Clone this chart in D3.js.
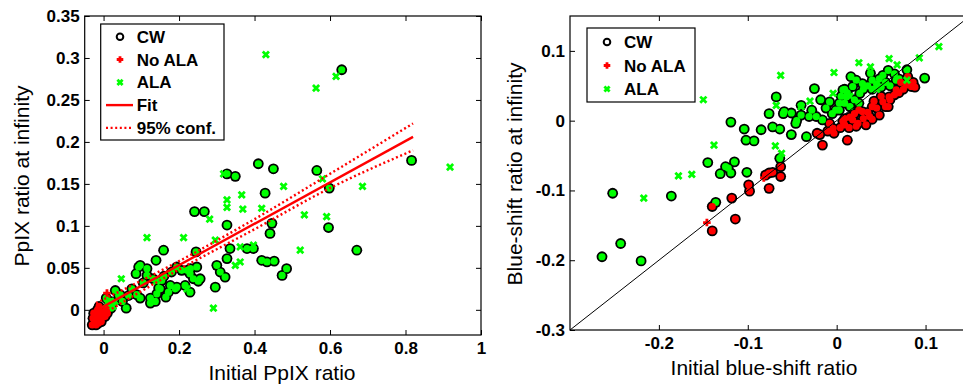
<!DOCTYPE html>
<html>
<head>
<meta charset="utf-8">
<script src="https://cdn.jsdelivr.net/npm/d3@7"></script>
<style>
  body { margin: 0; background: #fff; }
  svg { display: block; }
  text { font-family: "Liberation Sans", Arial, sans-serif; }
</style>
</head>
<body>
<svg id="chart" width="963" height="386"></svg>
<script>
'use strict';

// ---- left panel data: [initial, at infinity]
const leftCwAla = [[0.631,0.286],[0.816,0.178],[0.565,0.166],[0.598,0.145],[0.596,0.098],[0.671,0.071],
  [0.410,0.174],[0.450,0.168],[0.428,0.139],[0.327,0.162],[0.349,0.159],[0.446,0.103],[0.441,0.091],
  [0.241,0.117],[0.267,0.117],[0.327,0.101],[0.380,0.073],[0.397,0.073],[0.335,0.073],[0.327,0.061],
  [0.300,0.053],[0.309,0.045],[0.322,0.039],[0.296,0.027],[0.419,0.059],[0.433,0.057],[0.452,0.058],
  [0.485,0.049],[0.473,0.041],[0.245,0.069],[0.247,0.051],[0.229,0.043],[0.238,0.037],[0.251,0.034],
  [0.207,0.047],[0.194,0.051],[0.229,0.021],[0.194,0.027],[0.177,0.029],[0.172,0.021],[0.159,0.071],
  [0.139,0.059],[0.115,0.049],[0.093,0.051],[0.086,0.043],[0.115,0.041],[0.131,0.037],[0.154,0.035],
  [0.150,0.025],[0.141,0.019],[0.124,0.014],[0.124,0.008],[0.097,0.014],[0.066,0.017],[0.060,0.002],
  [0.031,0.023],[0.040,0.017],[0.018,0.010],[0.007,0.014],[0.097,0.053],[0.137,0.010],[0.146,0.026],
  [0.216,0.029],[0.221,0.047],[0.044,0.018],[0.088,0.018],[0.190,0.025],[0.230,0.049],[0.256,0.037],
  [0.105,0.032],[0.160,0.040],[0.180,0.045],[0.075,0.025],[0.050,0.010],[0.020,0.002],[0.165,0.015]];
const leftCwNoAla = [[-0.026,-0.004],[-0.018,-0.008],[-0.010,-0.012],[-0.022,-0.014],[-0.014,-0.016],
  [-0.004,-0.006],[-0.028,-0.010],[-0.020,-0.018],[-0.006,-0.014],[0.000,-0.002],[-0.016,0.000],
  [-0.008,-0.004],[-0.024,-0.016],[0.004,-0.008],[0.008,0.002],[-0.030,-0.018],[0.010,-0.004],
  [-0.012,0.004]];
const leftAla = [[0.430,0.304],[0.616,0.278],[0.563,0.264],[0.918,0.170],[0.686,0.147],[0.477,0.147],
  [0.580,0.156],[0.318,0.162],[0.327,0.131],[0.327,0.122],[0.366,0.137],[0.369,0.120],[0.419,0.121],
  [0.532,0.113],[0.591,0.111],[0.281,0.108],[0.115,0.086],[0.212,0.086],[0.296,0.083],[0.521,0.071],
  [0.362,0.075],[0.397,0.077],[0.349,0.053],[0.362,0.057],[0.291,0.002],[0.047,0.037],[0.221,0.025],
  [0.010,0.008],[0.025,0.004],[0.140,0.034],[0.030,0.010]];
const leftNoAla = [[0.009,0.020]];
const fitLine = [[-0.02,-0.001],[0.82,0.206]];
const confUpper = [[-0.02,0.008],[0.2,0.058],[0.4,0.108],[0.6,0.162],[0.82,0.222]];
const confLower = [[-0.02,-0.010],[0.2,0.048],[0.4,0.096],[0.6,0.145],[0.82,0.190]];
const leftXTicks = [0, 0.2, 0.4, 0.6, 0.8, 1];
const leftYTicks = [0, 0.05, 0.1, 0.15, 0.2, 0.25, 0.3, 0.35];

// ---- right panel data
const rightCwAla = [[-0.264,-0.195],[-0.252,-0.104],[-0.243,-0.176],[-0.220,-0.201],[-0.186,-0.108],
  [-0.145,-0.060],[-0.136,-0.117],[-0.131,-0.076],[-0.125,-0.066],[-0.119,-0.075],[-0.115,-0.059],
  [-0.122,-0.068],[-0.101,-0.074],[-0.119,-0.002],[-0.104,-0.012],[-0.102,-0.028],[-0.093,-0.029],
  [-0.085,-0.013],[-0.076,0.010],[-0.068,0.034],[-0.072,-0.009],[-0.064,-0.012],[-0.064,-0.054],
  [-0.051,-0.020],[-0.046,-0.004],[-0.034,-0.023],[-0.025,0.046],[-0.018,0.030],[-0.008,0.027],
  [-0.016,0.001],[-0.059,0.013],[-0.051,0.011],[-0.040,0.022],[-0.031,0.006],[-0.023,0.006],
  [0.003,0.015],[0.009,0.025],[0.009,0.045],[0.016,0.063],[0.058,0.072],[0.079,0.073],[0.099,0.061],
  [0.007,0.044],[0.018,0.049],[0.029,0.053],[0.040,0.058],[0.048,0.060],[0.067,0.058],[0.065,0.067],
  [0.003,0.025],[-0.001,0.015],[0.011,0.034],[0.026,0.039],[0.035,0.050],[0.022,0.058],[0.045,0.052],
  [0.055,0.055],[-0.040,0.008],[-0.045,0.000],[-0.060,0.010],[0.012,0.040],[0.020,0.030],
  [0.030,0.045],[0.040,0.045],[0.050,0.048],[0.060,0.050],[0.070,0.060],[0.015,0.020],[0.005,0.035],
  [-0.005,0.010],[0.025,0.025],[0.052,0.065],[0.038,0.068],[-0.028,0.015],[-0.012,0.018]];
const rightCwNoAla = [[-0.140,-0.158],[-0.114,-0.141],[-0.118,-0.111],[-0.140,-0.123],[-0.098,-0.101],
  [-0.099,-0.092],[-0.076,-0.097],[-0.063,-0.080],[-0.072,-0.074],[-0.080,-0.078],[-0.063,-0.066],
  [-0.076,-0.075],[-0.016,-0.035],[-0.022,-0.018],[-0.019,-0.020],[0.012,-0.028],[-0.004,-0.011],
  [0.007,-0.001],[0.018,0.001],[0.029,0.013],[0.040,0.020],[0.052,0.027],[0.059,0.034],[0.067,0.044],
  [0.078,0.051],[0.084,0.049],[0.080,0.063],[-0.003,-0.018],[0.014,-0.010],[0.037,0.006],[0.048,0.008],
  [0.033,-0.006],[0.024,-0.004],[0.009,-0.006],[0.009,0.003],[0.020,0.010],[0.030,0.003],[0.045,0.018],
  [0.055,0.020],[0.060,0.030],[0.070,0.040],[0.086,0.055],[-0.008,-0.004],
  [0.015,0.005],[0.025,0.015],[0.035,0.012],[0.042,0.028],[0.050,0.035],[0.065,0.037],[0.075,0.045],
  [0.088,0.048],[0.004,-0.010],[0.022,-0.008],[0.040,0.002],[0.058,0.020],[0.072,0.055],[-0.010,-0.015]];
const rightAla = [[-0.150,0.030],[-0.138,-0.035],[-0.178,-0.079],[-0.163,-0.077],[-0.217,-0.111],
  [-0.063,0.065],[-0.069,-0.036],[-0.062,-0.047],[-0.003,0.069],[0.025,0.083],[0.038,0.077],
  [0.059,0.089],[0.068,0.080],[0.093,0.090],[0.115,0.106],[0.079,0.058],[-0.004,0.039],[-0.068,0.022],
  [-0.040,0.020],[-0.030,0.028],[0.045,0.045],[0.015,0.035]];
const rightNoAla = [[-0.146,-0.146],[-0.082,-0.082]];
const identityLine = [[-0.3,-0.3],[0.15,0.15]];
const rightXTicks = [-0.2, -0.1, 0, 0.1];
const rightYTicks = [-0.3, -0.2, -0.1, 0, 0.1];

const GREEN = '#00ff00', RED = '#ff0000';
const fmt = d => d3.format('~g')(d).replace('\u2212', '-');

const svg = d3.select('#chart');

function xMark(g, x, y, s) {
  g.append('path').attr('d', `M${x-s},${y-s}L${x+s},${y+s}M${x-s},${y+s}L${x+s},${y-s}`)
    .attr('stroke', GREEN).attr('stroke-width', 2.8).attr('fill', 'none');
}
function plusMark(g, x, y, s) {
  g.append('path').attr('d', `M${x-s},${y}L${x+s},${y}M${x},${y-s}L${x},${y+s}`)
    .attr('stroke', RED).attr('stroke-width', 2.8).attr('fill', 'none');
}

function panel(opt) {
  const x = d3.scaleLinear().domain(opt.xDom).range(opt.xRange);
  const y = d3.scaleLinear().domain(opt.yDom).range(opt.yRange);
  const [x0, x1] = opt.xRange, [y1, y0] = opt.yRange;
  const g = svg.append('g');

  const clipId = 'clip' + opt.id;
  svg.append('clipPath').attr('id', clipId).append('rect')
    .attr('x', x0).attr('y', y0).attr('width', x1 - x0).attr('height', y1 - y0);
  const plot = g.append('g').attr('clip-path', `url(#${clipId})`);

  const line = d3.line().x(d => x(d[0])).y(d => y(d[1]));

  // CW circles: black ring, then coloured centre
  const cw = opt.cwAla.concat(opt.cwNoAla);
  plot.selectAll('circle.ring').data(cw).enter().append('circle')
    .attr('class', 'ring').attr('cx', d => x(d[0])).attr('cy', d => y(d[1]))
    .attr('r', 5.4).attr('fill', '#000');
  plot.selectAll('circle.fa').data(opt.cwAla).enter().append('circle')
    .attr('class', 'fa').attr('cx', d => x(d[0])).attr('cy', d => y(d[1]))
    .attr('r', 3.6).attr('fill', GREEN);
  plot.selectAll('circle.fn').data(opt.cwNoAla).enter().append('circle')
    .attr('class', 'fn').attr('cx', d => x(d[0])).attr('cy', d => y(d[1]))
    .attr('r', 3.6).attr('fill', RED);
  opt.noAla.forEach(d => plusMark(plot, x(d[0]), y(d[1]), 3.8));
  opt.ala.forEach(d => xMark(plot, x(d[0]), y(d[1]), 3.1));

  if (opt.fit) {
    plot.append('path').datum(opt.fit).attr('d', line)
      .attr('stroke', RED).attr('stroke-width', 2.4).attr('fill', 'none');
    [opt.upper, opt.lower].forEach(c => {
      plot.append('path').datum(c).attr('d', line.curve(d3.curveMonotoneX))
        .attr('stroke', RED).attr('stroke-width', 2.4).attr('stroke-dasharray', '2,2.6').attr('fill', 'none');
    });
  }
  if (opt.identity) {
    plot.append('path').datum(opt.identity).attr('d', d3.line().x(d => x(d[0])).y(d => y(d[1])))
      .attr('stroke', '#000').attr('stroke-width', 1).attr('fill', 'none');
  }

  // axes, ticks pointing inward on all four sides
  g.append('g').attr('transform', `translate(0,${y1})`)
    .call(d3.axisBottom(x).tickValues(opt.xTicks).tickFormat(fmt).tickSizeInner(-5).tickSizeOuter(0).tickPadding(7));
  g.append('g').attr('transform', `translate(0,${y0})`)
    .call(d3.axisTop(x).tickValues(opt.xTicks).tickFormat('').tickSizeInner(-5).tickSizeOuter(0));
  g.append('g').attr('transform', `translate(${x0},0)`)
    .call(d3.axisLeft(y).tickValues(opt.yTicks).tickFormat(fmt).tickSizeInner(-5).tickSizeOuter(0).tickPadding(5));
  g.append('g').attr('transform', `translate(${x1},0)`)
    .call(d3.axisRight(y).tickValues(opt.yTicks).tickFormat('').tickSizeInner(-5).tickSizeOuter(0));
  g.selectAll('.domain').remove();
  g.selectAll('.tick line').attr('stroke', '#000');
  g.selectAll('.tick text').attr('font-family', '"Liberation Sans", Arial, sans-serif')
    .attr('font-size', 17).attr('font-weight', 'bold').attr('fill', '#000');

  g.append('rect').attr('x', x0).attr('y', y0).attr('width', x1 - x0).attr('height', y1 - y0)
    .attr('fill', 'none').attr('stroke', '#000').attr('stroke-width', 1.2);

  g.append('text').attr('x', opt.xLabelPos[0]).attr('y', opt.xLabelPos[1])
    .attr('text-anchor', 'middle').attr('font-size', 21).text(opt.xLabel);
  g.append('text').attr('transform', `translate(${opt.yLabelPos[0]},${opt.yLabelPos[1]}) rotate(-90)`)
    .attr('text-anchor', 'middle').attr('font-size', 21).text(opt.yLabel);

  // legend
  const L = opt.legend;
  g.append('rect').attr('x', L.x).attr('y', L.y).attr('width', L.w).attr('height', L.h)
    .attr('fill', '#fff').attr('stroke', '#000').attr('stroke-width', 1.2);
  L.rows.forEach((r, i) => {
    const cy = L.y + L.first + i * L.step;
    if (r.kind === 'cw') {
      g.append('circle').attr('cx', L.mx).attr('cy', cy).attr('r', 3.3)
        .attr('fill', 'none').attr('stroke', '#000').attr('stroke-width', 2);
    } else if (r.kind === 'plus') {
      plusMark(g, L.mx, cy, 3.3);
    } else if (r.kind === 'x') {
      xMark(g, L.mx, cy, 2.6);
    } else {
      g.append('line').attr('x1', L.mx - 14).attr('x2', L.mx + 13).attr('y1', cy).attr('y2', cy)
        .attr('stroke', RED).attr('stroke-width', 2.4)
        .attr('stroke-dasharray', r.kind === 'dot' ? '2,2.6' : null);
    }
    g.append('text').attr('x', L.tx).attr('y', cy + 6).attr('font-size', 17)
      .attr('font-weight', 'bold').text(r.label);
  });
}

panel({
  id: 'L', xDom: [-0.05, 1], xRange: [84.7, 481], yDom: [-0.03, 0.35], yRange: [335, 16],
  cwAla: leftCwAla, cwNoAla: leftCwNoAla, ala: leftAla, noAla: leftNoAla,
  fit: fitLine, upper: confUpper, lower: confLower,
  xTicks: leftXTicks, yTicks: leftYTicks,
  xLabel: 'Initial PpIX ratio', xLabelPos: [282, 380],
  yLabel: 'PpIX ratio at infinity', yLabelPos: [28.5, 176],
  legend: { x: 100.7, y: 24, w: 123.3, h: 116, first: 12.7, step: 22.8, mx: 120, tx: 136.7,
    rows: [{ kind: 'cw', label: 'CW' }, { kind: 'plus', label: 'No ALA' }, { kind: 'x', label: 'ALA' },
           { kind: 'fit', label: 'Fit' }, { kind: 'dot', label: '95% conf.' }] }
});

panel({
  id: 'R', xDom: [-0.3, 0.15], xRange: [570, 970], yDom: [-0.3, 0.15], yRange: [330, 16],
  cwAla: rightCwAla, cwNoAla: rightCwNoAla, ala: rightAla, noAla: rightNoAla,
  identity: identityLine,
  xTicks: rightXTicks, yTicks: rightYTicks,
  xLabel: 'Initial blue-shift ratio', xLabelPos: [764, 375],
  yLabel: 'Blue-shift ratio at infinity', yLabelPos: [521.5, 174],
  legend: { x: 587, y: 28, w: 108, h: 74, first: 14, step: 23.5, mx: 607, tx: 624,
    rows: [{ kind: 'cw', label: 'CW' }, { kind: 'plus', label: 'No ALA' }, { kind: 'x', label: 'ALA' }] }
});
</script>
</body>
</html>
